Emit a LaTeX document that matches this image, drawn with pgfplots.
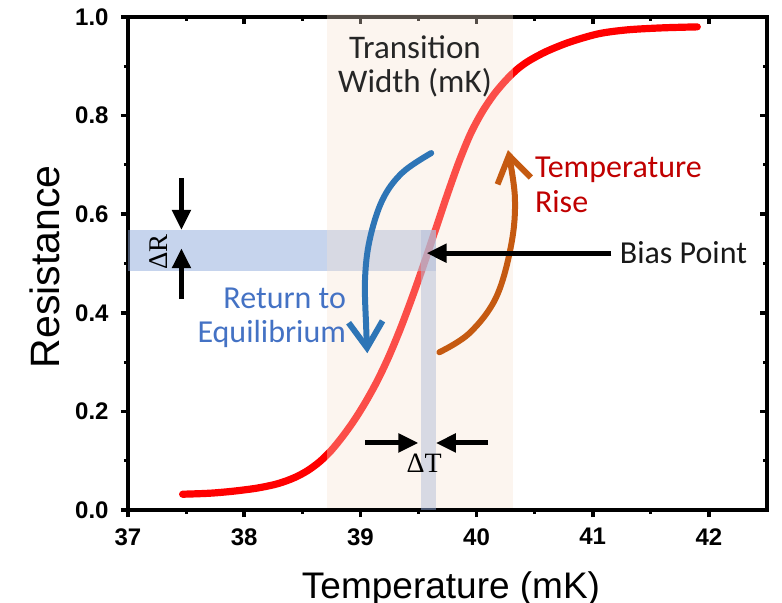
\documentclass[border=0pt]{standalone}
\usepackage{fontspec}
\setmainfont{Liberation Sans}
\newfontfamily\calfont{Carlito}
\newfontfamily\serfont{Liberation Serif}
\usepackage{pgfplots}
\pgfplotsset{compat=1.18}
\usetikzlibrary{arrows.meta}
\definecolor{curvered}{RGB}{255,0,0}
\definecolor{bandcol}{RGB}{246,226,209}
\definecolor{stripcol}{RGB}{142,169,219}
\definecolor{retblue}{RGB}{46,117,182}
\definecolor{rettext}{RGB}{68,114,196}
\definecolor{riseorange}{RGB}{197,90,17}
\definecolor{risetext}{RGB}{192,0,0}
\begin{document}
\begin{tikzpicture}
\pgfplotsset{
  common/.style={
    scale only axis, width=319.5pt, height=246.5pt,
    xmin=37, xmax=42.5, ymin=0, ymax=1,
    xtick={37,38,39,40,41,42}, ytick={0,0.2,0.4,0.6,0.8,1.0},
    minor x tick num=1, minor y tick num=1,
    axis line style={line width=2.2pt},
    major tick style={line width=1.8pt, black},
    minor tick style={line width=1.5pt, black},
    major tick length=3.5pt, minor tick length=2pt,
  }
}
\begin{axis}[common, xtick pos=top, ytick pos=right, tick align=inside,
  xticklabels={}, yticklabels={}]
\end{axis}
\begin{axis}[common, xtick pos=bottom, ytick pos=left, tick align=outside, clip=false,
  /pgf/number format/assume math mode=true,
  tick label style={font=\bfseries\fontsize{12}{12}\selectfont, inner sep=0pt},
  yticklabel style={anchor=east, /pgf/number format/fixed, /pgf/number format/fixed zerofill, /pgf/number format/precision=1},
  xticklabel style={anchor=north},
  xticklabel shift=5.5pt, yticklabel shift=6pt,
  xlabel={Temperature (mK)}, ylabel={Resistance},
  xlabel style={font=\fontsize{18.5}{20}\selectfont, at={(axis description cs:0.5055,-0.1785)}, anchor=base},
  ylabel style={font=\fontsize{20.5}{22}\selectfont, at={(axis description cs:-0.1299,0.493)}, anchor=center},
]
\addplot[curvered, line width=3.6pt, line cap=round, smooth, tension=0.5] coordinates {
(37.47,0.032) (37.70,0.034) (37.90,0.038) (38.10,0.044) (38.25,0.051) (38.35,0.058)
(38.45,0.0675) (38.55,0.0805) (38.65,0.098) (38.75,0.121) (38.85,0.150) (38.95,0.183)
(39.05,0.221) (39.15,0.264) (39.25,0.314) (39.35,0.371) (39.45,0.434) (39.55,0.501)
(39.65,0.571) (39.75,0.641) (39.85,0.707) (39.95,0.764) (40.05,0.808) (40.15,0.843)
(40.25,0.871) (40.35,0.894) (40.45,0.911) (40.60,0.930) (40.80,0.949) (41.05,0.966)
(41.30,0.974) (41.60,0.978) (41.90,0.980)
};
% bias strips
\fill[stripcol, opacity=0.5] (axis cs:37,0.485) rectangle (axis cs:39.65,0.567);
\fill[stripcol, opacity=0.5] (axis cs:39.52,0) rectangle (axis cs:39.65,0.567);
% transition band
\fill[bandcol, opacity=0.35] (axis cs:38.71,0.004) rectangle (axis cs:40.31,1.006);
% curved arrows
\addplot[retblue, line width=3pt, line cap=round, smooth, tension=0.6,
  -{Straight Barb[length=13pt,width=17pt,line width=3pt]}] coordinates {
(39.61,0.724) (39.36,0.684) (39.19,0.629) (39.08,0.548) (39.04,0.467) (39.05,0.371) (39.06,0.318)
};
\addplot[riseorange, line width=3pt, line cap=round, smooth, tension=0.6,
  -{Straight Barb[length=13pt,width=17pt,line width=3pt]}] coordinates {
(39.68,0.320) (39.94,0.359) (40.17,0.432) (40.30,0.540) (40.33,0.635) (40.27,0.730)
};
% black arrows
\draw[line width=2.5pt, -{Triangle[length=10pt,width=9pt]}] (axis cs:41.16,0.521) -- (axis cs:39.57,0.521);
\draw[line width=2.5pt, -{Triangle[length=10pt,width=9pt]}] (axis cs:39.04,0.136) -- (axis cs:39.50,0.136);
\draw[line width=2.5pt, -{Triangle[length=10pt,width=9pt]}] (axis cs:40.10,0.136) -- (axis cs:39.65,0.136);
\draw[line width=2.5pt, -{Triangle[length=10pt,width=9pt]}] (axis cs:37.46,0.673) -- (axis cs:37.46,0.568);
\draw[line width=2.5pt, -{Triangle[length=10pt,width=9pt]}] (axis cs:37.46,0.428) -- (axis cs:37.46,0.531);
% texts
\node[font=\serfont\fontsize{14}{15}\selectfont, inner sep=0pt] at (axis cs:39.55,0.095) {ΔT};
\node[font=\serfont\fontsize{13.5}{15}\selectfont, inner sep=0pt, rotate=90] at (axis cs:37.26,0.523) {ΔR};
\node[font=\calfont\fontsize{16.5}{17}\selectfont, align=center, inner sep=0pt, text=black!85] at (axis cs:39.47,0.90) {Transition\\Width (mK)};
\node[font=\calfont\fontsize{16}{17.5}\selectfont, align=left, anchor=west, inner sep=0pt, text=risetext] at (axis cs:40.50,0.66) {Temperature\\Rise};
\node[font=\calfont\fontsize{16}{17}\selectfont, align=right, anchor=east, inner sep=0pt, text=rettext] at (axis cs:38.88,0.389) {Return to\\Equilibrium};
\node[font=\calfont\fontsize{16}{17}\selectfont, anchor=west, inner sep=0pt, text=black!90] at (axis cs:41.23,0.523) {Bias Point};
\end{axis}
\pgfresetboundingbox
\path[use as bounding box] (-64pt,-46pt) rectangle (327pt,255pt);
\end{tikzpicture}
\end{document}
